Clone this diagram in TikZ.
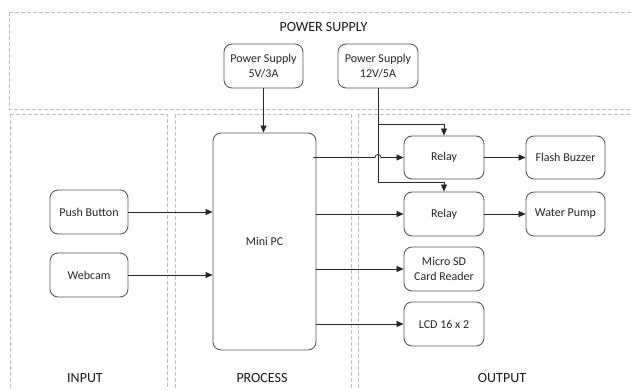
\documentclass[tikz,border=0pt]{standalone}
\usepackage{fontspec}
\setmainfont{Carlito}
\usetikzlibrary{arrows.meta}
\begin{document}
\begin{tikzpicture}[x=1pt,y=-1pt,
  blk/.style={draw=black!65,line width=0.9pt,rounded corners=8pt,align=center,
    font=\fontsize{12}{14.5}\selectfont,text=black!85,inner sep=0pt},
  region/.style={draw=black!25,line width=0.8pt,dash pattern=on 4pt off 2pt},
  lbl/.style={font=\fontsize{14}{16}\selectfont,text=black!90,inner sep=0pt},
  conn/.style={draw=black!85,line width=0.8pt,-{Triangle[length=7pt,width=6pt]}},
  line/.style={draw=black!85,line width=0.8pt}]
\useasboundingbox (0,0) rectangle (631,389);
\fill[white] (0,0) rectangle (631,389);
% regions
\draw[region] (9,12) rectangle (640,109);
\draw[region] (10,114) rectangle (167,400);
\draw[region] (175,114) rectangle (351,400);
\draw[region] (358,114) rectangle (640,400);
\node[lbl] (tps) at (323.5,27) {POWER SUPPLY};
\node[lbl] (tin) at (85,378) {INPUT};
\node[lbl] (tpr) at (262,378) {PROCESS};
\node[lbl] (tout) at (502,378) {OUTPUT};
% blocks
\node[blk,minimum width=79pt,minimum height=44pt] (ps5) at (263.5,66) {Power Supply\\5V/3A};
\node[blk,minimum width=80pt,minimum height=44pt] (ps12) at (378,66) {Power Supply\\12V/5A};
\node[blk,minimum width=103pt,minimum height=217pt] (pc) at (264.5,241.5) {Mini PC};
\node[blk,minimum width=78pt,minimum height=44pt] (push) at (89,212) {Push Button};
\node[blk,minimum width=78pt,minimum height=44pt] (cam) at (89,275) {Webcam};
\node[blk,minimum width=80pt,minimum height=43pt] (r1) at (444,157.5) {Relay};
\node[blk,minimum width=80pt,minimum height=44pt] (r2) at (444,214) {Relay};
\node[blk,minimum width=79pt,minimum height=43pt] (fb) at (565.5,157.5) {Flash Buzzer};
\node[blk,minimum width=79pt,minimum height=44pt] (wp) at (565.5,214) {Water Pump};
\node[blk,minimum width=80pt,minimum height=44pt] (sd) at (444,269) {Micro SD\\Card Reader};
\node[blk,minimum width=80pt,minimum height=44pt] (lcd) at (444,324) {LCD 16 x 2};
% junction coordinates for the 12V feed
\coordinate (b1) at (378,124);
\coordinate (b2) at (378,182);
\coordinate (hop) at (378,157.5);
% connectors
\draw[conn] (ps5.south) -- (ps5.south |- pc.north);
\draw[line] (ps12.south) -- (b2);
\draw[conn] (b1) -| (r1.north);
\draw[conn] (b2) -| (r2.north);
\draw[conn] ([xshift=-3pt]hop -| pc.east) -- ([xshift=-3pt]hop) arc[start angle=180,end angle=0,radius=3pt] -- (r1.west);
\draw[conn] (pc.east |- r2.west) -- (r2.west);
\draw[conn] (pc.east |- sd.west) -- (sd.west);
\draw[conn] (pc.east |- lcd.west) -- (lcd.west);
\draw[conn] (push.east) -- (push.east -| pc.west);
\draw[conn] (cam.east) -- (cam.east -| pc.west);
\draw[conn] (r1.east) -- (fb.west);
\draw[conn] (r2.east) -- (wp.west);
\end{tikzpicture}
\end{document}
